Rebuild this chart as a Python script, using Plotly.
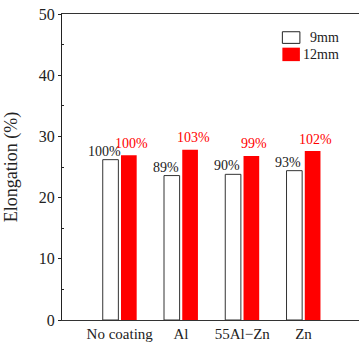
import plotly.graph_objects as go

categories = ["No coating", "Al", "55Al\u2212Zn", "Zn"]
series_names = ["9mm", "12mm"]
values_9mm = [26.2, 23.6, 23.8, 24.4]
values_12mm = [26.9, 27.8, 26.8, 27.6]
labels_9mm = ["100%", "89%", "90%", "93%"]
labels_12mm = ["100%", "103%", "99%", "102%"]
y_ticks = [0, 10, 20, 30, 40, 50]

FONT = "Liberation Serif, Times New Roman, serif"
RED = "#FF0000"

xs = list(range(len(categories)))

fig = go.Figure()
fig.add_trace(go.Bar(
    x=xs, y=values_9mm, name=series_names[0],
    width=0.255, offset=-0.277,
    marker=dict(color="white", line=dict(color="#333333", width=1)),
    showlegend=False,
))
fig.add_trace(go.Bar(
    x=xs, y=values_12mm, name=series_names[1],
    width=0.256, offset=0.021,
    marker=dict(color=RED, line=dict(width=0)),
    showlegend=False,
))

annotations = []
for i, (v, t) in enumerate(zip(values_9mm, labels_9mm)):
    annotations.append(dict(x=i - 0.245, y=v, xref="x", yref="y", text=t,
                            showarrow=False, yanchor="middle", yshift=8.5,
                            font=dict(family=FONT, size=14, color="#222222")))
for i, (v, t) in enumerate(zip(values_12mm, labels_12mm)):
    annotations.append(dict(x=i + 0.2, y=v, xref="x", yref="y", text=t,
                            showarrow=False, yanchor="middle", yshift=12,
                            font=dict(family=FONT, size=14, color=RED)))

# custom legend
shapes = [
    dict(type="rect", xref="paper", yref="paper", x0=0.742, x1=0.801, y0=0.904, y1=0.942,
         fillcolor="white", line=dict(color="#222222", width=1)),
    dict(type="rect", xref="paper", yref="paper", x0=0.742, x1=0.801, y0=0.846, y1=0.890,
         fillcolor=RED, line=dict(width=0)),
]
annotations.append(dict(x=0.941, y=0.923, xref="paper", yref="paper", text=series_names[0],
                        showarrow=False, xanchor="right", yanchor="middle",
                        font=dict(family=FONT, size=14, color="#222222")))
annotations.append(dict(x=0.941, y=0.868, xref="paper", yref="paper", text=series_names[1],
                        showarrow=False, xanchor="right", yanchor="middle",
                        font=dict(family=FONT, size=14, color="#222222")))

fig.update_layout(
    width=359, height=349,
    margin=dict(l=62, r=0, t=14, b=29),
    paper_bgcolor="white", plot_bgcolor="white",
    font=dict(family=FONT, size=15, color="#222222"),
    showlegend=False,
    annotations=annotations,
    shapes=shapes,
    xaxis=dict(
        range=[-0.942, 3.906],
        tickmode="array", tickvals=xs, ticktext=categories,
        ticks="", showgrid=False, zeroline=False,
        showline=True, linecolor="#333333", linewidth=1.2, mirror=True,
        tickfont=dict(family=FONT, size=15, color="#222222"),
        fixedrange=True,
    ),
    yaxis=dict(
        range=[0, 50],
        tickmode="array", tickvals=y_ticks,
        ticks="outside", ticklen=3, tickwidth=1, tickcolor="#222222",
        minor=dict(tickvals=[5, 15, 25, 35, 45], ticks="inside", ticklen=2,
                   tickwidth=1, tickcolor="#222222"),
        showgrid=False, zeroline=False,
        showline=True, linecolor="#222222", linewidth=1,
        tickfont=dict(family=FONT, size=16, color="#222222"),
        title=dict(text="Elongation (%)", standoff=16,
                   font=dict(family=FONT, size=18, color="#222222")),
        fixedrange=True,
    ),
)

fig.write_html("out.html")
